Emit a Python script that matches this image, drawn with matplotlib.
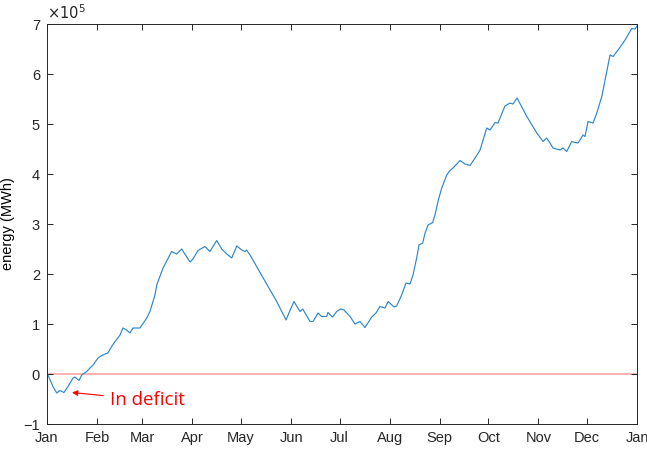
import numpy as np
import matplotlib.pyplot as plt

# cumulative energy balance over one year (day of year, value in 1e5 MWh)
days = [0, 0.6, 3.7, 6.0, 8.0, 10.5, 13.0, 16.1, 17.3, 19.8, 21.5, 24.6, 26.6,
        28.5, 31.6, 32.8, 35.9, 37.7, 40.0, 42.1, 45.2, 47.0, 49.3, 51.3, 53.2,
        57.5, 61.7, 63.7, 66.8, 67.9, 71.8, 77.1, 80.2, 83.3, 88.5, 90.3, 93.4,
        97.7, 100.8, 105.0, 108.1, 111.2, 114.3, 117.4, 120.5, 122.5, 123.5,
        125.6, 142.1, 145.2, 147.9, 150.3, 152.8, 156.5, 158.2, 162.7, 164.6,
        167.7, 169.9, 173.0, 173.8, 176.7, 179.2, 181.7, 183.7, 187.5, 190.5,
        193.6, 196.7, 200.9, 203.5, 206.0, 209.1, 211.1, 214.7, 216.3, 219.4,
        222.1, 224.6, 226.4, 228.7, 230.1, 232.4, 233.9, 235.7, 238.6, 240.0,
        242.1, 244.2, 247.3, 249.3, 251.2, 255.5, 258.6, 261.7, 264.8, 267.9,
        272.0, 274.1, 277.2, 279.0, 283.3, 286.4, 288.3, 290.8, 296.8, 303.0,
        306.9, 309.1, 311.2, 313.0, 315.3, 317.4, 319.2, 321.5, 324.6, 326.6,
        328.5, 331.6, 332.8, 334.7, 337.8, 340.1, 343.2, 348.3, 350.2, 353.3,
        357.6, 361.7, 363.8, 365.0]
energy = [0, -0.02, -0.25, -0.38, -0.33, -0.37, -0.25, -0.08, -0.06, -0.13,
          -0.02, 0.05, 0.12, 0.18, 0.32, 0.35, 0.40, 0.42, 0.55, 0.65, 0.78,
          0.92, 0.88, 0.82, 0.92, 0.92, 1.12, 1.25, 1.58, 1.78, 2.12, 2.45,
          2.40, 2.50, 2.24, 2.30, 2.47, 2.55, 2.45, 2.67, 2.50, 2.40, 2.32,
          2.56, 2.48, 2.45, 2.48, 2.38, 1.45, 1.25, 1.08, 1.27, 1.45, 1.25,
          1.30, 1.05, 1.05, 1.22, 1.15, 1.15, 1.23, 1.14, 1.25, 1.30, 1.28,
          1.15, 1.00, 1.05, 0.93, 1.14, 1.22, 1.35, 1.32, 1.45, 1.34, 1.36,
          1.58, 1.82, 1.80, 1.98, 2.32, 2.58, 2.62, 2.82, 2.98, 3.03, 3.18,
          3.48, 3.72, 3.98, 4.07, 4.12, 4.27, 4.20, 4.17, 4.32, 4.48, 4.92,
          4.88, 5.03, 5.02, 5.36, 5.42, 5.40, 5.52, 5.15, 4.82, 4.65, 4.72,
          4.62, 4.52, 4.50, 4.48, 4.52, 4.45, 4.65, 4.63, 4.62, 4.78, 4.75,
          5.05, 5.02, 5.22, 5.55, 6.38, 6.35, 6.48, 6.68, 6.91, 6.90, 6.96]

month_labels = ['Jan', 'Feb', 'Mar', 'Apr', 'May', 'Jun', 'Jul', 'Aug',
                'Sep', 'Oct', 'Nov', 'Dec', 'Jan']
month_lengths = [31, 28, 31, 30, 31, 30, 31, 31, 30, 31, 30, 31]
month_starts = np.concatenate([[0], np.cumsum(month_lengths)])

plt.rcParams['font.family'] = ['Liberation Sans', 'DejaVu Sans']

fig = plt.figure(figsize=(6.47, 4.53), dpi=100)
ax = fig.add_axes([0.0726, 0.064, 0.912, 0.883])

ax.axhline(0, color='#ffa6a6', lw=1.2, zorder=1)
ax.plot(days, energy, color='#2f86c8', lw=0.85, zorder=2)

ax.set_xlim(0, 365)
ax.set_ylim(-1, 7)
ax.set_xticks(month_starts)
ax.set_xticklabels(month_labels)
ax.set_yticks(range(-1, 8))
ax.set_ylabel('energy (MWh)', fontsize=10.5)
ax.yaxis.set_label_coords(-0.055, 0.5)

ax.tick_params(direction='in', length=4.5, width=0.7, top=True, right=True,
               labelsize=10.5, colors='#262626', pad=5)
for s in ax.spines.values():
    s.set_color('#262626')
    s.set_linewidth(0.7)

ax.text(0, 1.005, r'$\times10^5$', transform=ax.transAxes, fontsize=10.5,
        ha='left', va='bottom', color='#262626')

ax.annotate('In deficit', xy=(15.5, -0.37), xytext=(39, -0.52),
            color='red', fontsize=13.5, family=['Open Sans', 'DejaVu Sans'],
            va='center', ha='left',
            arrowprops=dict(arrowstyle='-|>', color='red', lw=0.8,
                            mutation_scale=8, shrinkA=3, shrinkB=0))

fig.savefig('out.png', dpi=100)
